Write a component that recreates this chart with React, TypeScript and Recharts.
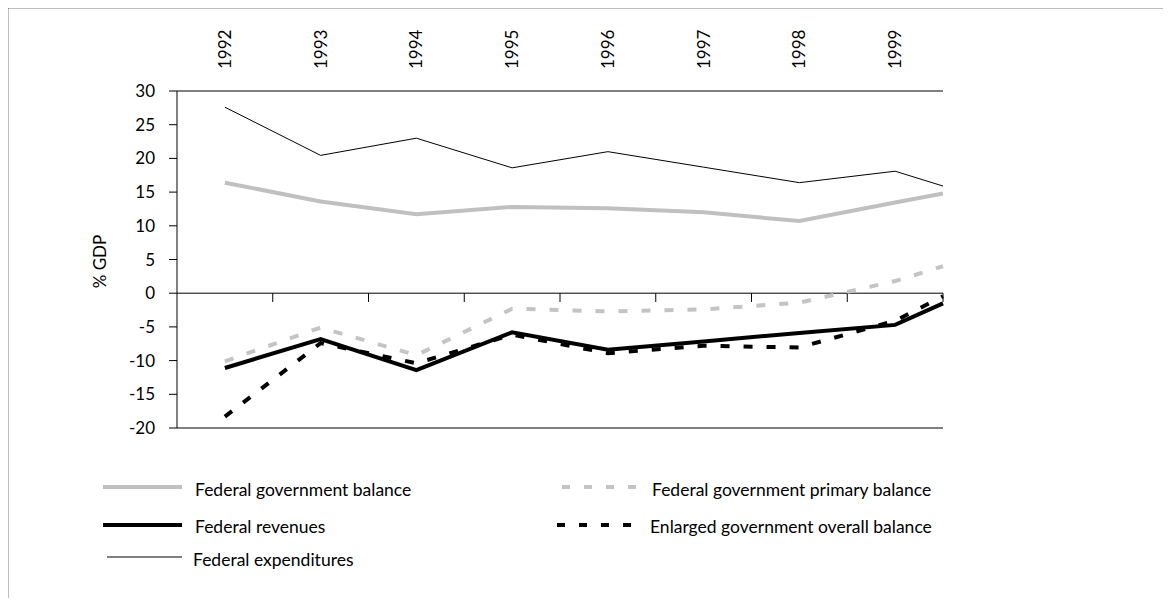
import React from 'react';
import { LineChart, Line, XAxis, YAxis, ReferenceLine, Label } from 'recharts';

// Periods (x values) – last point sits at the right edge of the 1999 band
const periods = [1992, 1993, 1994, 1995, 1996, 1997, 1998, 1999, 1999.5];
const yearLabels = [1992, 1993, 1994, 1995, 1996, 1997, 1998, 1999];
const bandEdges = [1992.5, 1993.5, 1994.5, 1995.5, 1996.5, 1997.5, 1998.5, 1999.5];
const yTicks = [-20, -15, -10, -5, 0, 5, 10, 15, 20, 25, 30];

const seriesNames = [
  'Federal government balance',
  'Federal revenues',
  'Federal expenditures',
  'Federal government primary balance',
  'Enlarged government overall balance',
];

const fedGovBalance = [16.4, 13.6, 11.7, 12.8, 12.6, 12.0, 10.7, 13.45, 14.8];
const fedRevenues = [-11.1, -6.8, -11.4, -5.8, -8.4, -7.15, -5.9, -4.7, -1.5];
const fedExpenditures = [27.6, 20.45, 23.0, 18.6, 21.0, 18.7, 16.4, 18.1, 15.9];
const primaryBalance = [-10.1, -5.1, -9.2, -2.3, -2.7, -2.4, -1.4, 1.8, 4.0];
const enlargedBalance = [-18.3, -7.4, -10.4, -6.15, -8.9, -7.8, -8.05, -4.1, -0.45];

const FONT = 'Lato, "Noto Sans", sans-serif';

const series = [
  { key: 's0', name: seriesNames[0], values: fedGovBalance, color: '#c0c0c0', width: 4, dash: undefined as string | undefined },
  { key: 's1', name: seriesNames[1], values: fedRevenues, color: '#000000', width: 4, dash: undefined },
  { key: 's2', name: seriesNames[2], values: fedExpenditures, color: '#000000', width: 1, dash: undefined },
  { key: 's3', name: seriesNames[3], values: primaryBalance, color: '#c4c4c4', width: 4, dash: '9 14' },
  { key: 's4', name: seriesNames[4], values: enlargedBalance, color: '#000000', width: 4, dash: '9 14' },
];

const data = periods.map((p, i) => {
  const row: Record<string, number> = { period: p };
  series.forEach((s) => {
    row[s.key] = s.values[i];
  });
  return row;
});

// legend layout (positions relative to the chart box)
const legendLayout = [
  { x1: 95, x2: 174, y: 479, tx: 187, ty: 482 },
  { x1: 95, x2: 174, y: 517, tx: 187, ty: 519 },
  { x1: 99, x2: 174, y: 549, tx: 185, ty: 552 },
  { x1: 554, x2: 629, y: 479, tx: 644, ty: 482 },
  { x1: 549, x2: 624, y: 517, tx: 642, ty: 519 },
];

const YearTick = (props: any) => {
  const { x, y, payload } = props;
  return (
    <text
      x={x}
      y={y}
      transform={`rotate(-90, ${x}, ${y})`}
      textAnchor="start"
      dy="0.35em"
      fontSize={17}
      fill="#000"
      fontFamily={FONT}
    >
      {payload.value}
    </text>
  );
};

const YLabel = (props: any) => {
  const vb = props.viewBox;
  const cx = vb.x + 92;
  const cy = vb.y + vb.height / 2 + 2;
  return (
    <text
      x={cx}
      y={cy}
      transform={`rotate(-90, ${cx}, ${cy})`}
      textAnchor="middle"
      dy="0.35em"
      fontSize={17}
      fill="#000"
      fontFamily={FONT}
    >
      % GDP
    </text>
  );
};

export default function App() {
  return (
    <div style={{ position: 'relative', width: 1156, height: 590, background: '#fff' }}>
      <LineChart
        width={1156}
        height={590}
        data={data}
        margin={{ top: 23, right: 221, bottom: 169, left: 0 }}
      >
        <XAxis
          xAxisId="top"
          orientation="top"
          dataKey="period"
          type="number"
          domain={[1991.5, 1999.5]}
          ticks={yearLabels}
          interval={0}
          height={60}
          tickLine={false}
          tickSize={0}
          tickMargin={22}
          axisLine={{ stroke: '#000', strokeWidth: 1 }}
          tick={<YearTick />}
        />
        <XAxis
          xAxisId="bottom"
          orientation="bottom"
          dataKey="period"
          type="number"
          domain={[1991.5, 1999.5]}
          height={1}
          tick={false}
          tickLine={false}
          axisLine={{ stroke: '#000', strokeWidth: 1 }}
        />
        <YAxis
          type="number"
          domain={[-20, 30]}
          ticks={yTicks}
          interval={0}
          width={169}
          tickSize={8}
          tickMargin={14}
          axisLine={{ stroke: '#000', strokeWidth: 1 }}
          tickLine={{ stroke: '#000', strokeWidth: 1 }}
          tick={{ fill: '#000', fontSize: 17, fontFamily: FONT }}
        >
          <Label content={<YLabel />} />
        </YAxis>
        <ReferenceLine xAxisId="top" y={0} stroke="#000" strokeWidth={1} />
        {bandEdges.map((e) => (
          <ReferenceLine
            key={e}
            xAxisId="top"
            segment={[
              { x: e, y: 0 },
              { x: e, y: -1.3 },
            ]}
            stroke="#000"
            strokeWidth={1}
          />
        ))}
        {series.map((s) => (
          <Line
            key={s.key}
            xAxisId="top"
            type="linear"
            dataKey={s.key}
            name={s.name}
            stroke={s.color}
            strokeWidth={s.width}
            strokeDasharray={s.dash}
            dot={false}
            activeDot={false}
            isAnimationActive={false}
          />
        ))}
      </LineChart>
      <svg
        width={1171}
        height={620}
        style={{ position: 'absolute', left: -8, top: -8, pointerEvents: 'none', overflow: 'visible' }}
      >
        <path d="M7.5 640 V7.5 H1165" fill="none" stroke="#000" strokeWidth={1.5} />
        <path d="M1165.5 7 V640" fill="none" stroke="#555" strokeWidth={2} />
        <g transform="translate(8, 8)">
          {series.map((s, i) => {
            const l = legendLayout[i];
            return (
              <g key={s.key}>
                <line
                  x1={l.x1}
                  x2={l.x2}
                  y1={l.y}
                  y2={l.y}
                  stroke={s.color}
                  strokeWidth={s.width}
                  strokeDasharray={s.dash ? '8 14' : undefined}
                />
                <text x={l.tx} y={l.ty} dy="0.35em" fontSize={17.5} fill="#000" fontFamily={FONT}>
                  {s.name}
                </text>
              </g>
            );
          })}
        </g>
      </svg>
    </div>
  );
}
